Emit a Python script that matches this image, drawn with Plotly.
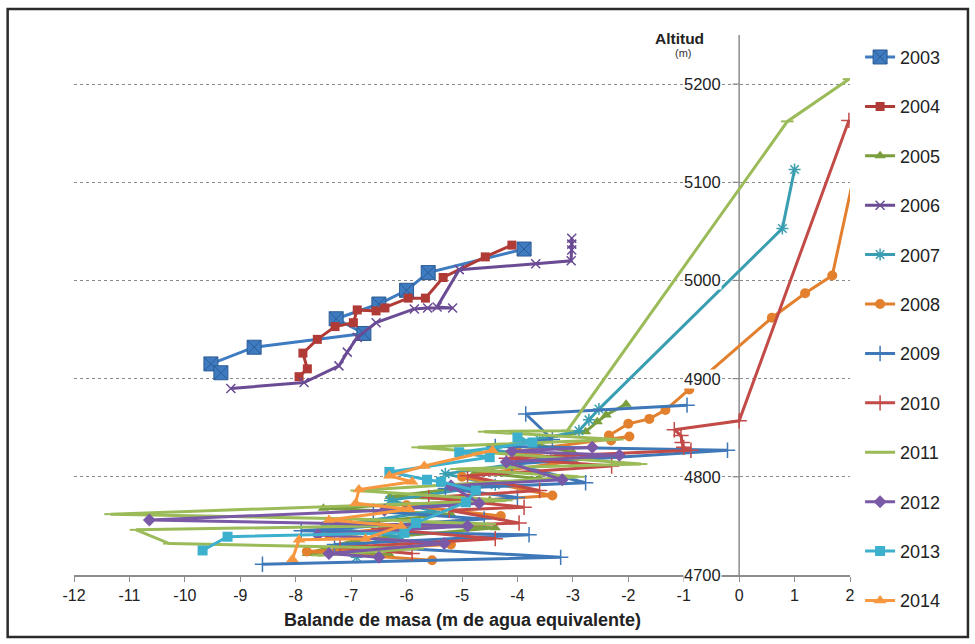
import plotly.graph_objects as go

# ---- mass balance (m w.e.) vs altitude (m), one series per year ----
bal_2003 = [-3.88, -5.61, -6.00, -6.50, -7.27, -6.77, -8.75, -9.53, -9.35]
alt_2003 = [5032, 5008, 4990, 4976, 4961, 4946, 4932, 4915, 4906]

bal_2004 = [-4.10, -4.58, -5.34, -5.66, -5.97, -6.39, -6.55, -6.89, -6.96, -7.29, -7.61, -7.87, -7.79, -7.94]
alt_2004 = [5036, 5024, 5003, 4982, 4982, 4972, 4969, 4970, 4957, 4953, 4940, 4926, 4910, 4902]

bal_2005 = [-2.04, -2.40, -2.56, -2.77, -3.90, -3.00, -4.76, -3.60, -6.30, -4.50, -7.50, -5.20, -7.00, -4.40, -6.90, -7.79, -6.31]
alt_2005 = [4874, 4863, 4856, 4846, 4836, 4825, 4805, 4798, 4780, 4776, 4768, 4762, 4752, 4748, 4736, 4722, 4721]

bal_2006 = [-3.02, -3.02, -3.02, -3.03, -3.67, -5.05, -5.45, -5.17, -5.62, -5.86, -6.55, -6.89, -7.07, -7.22, -7.85, -9.17]
alt_2006 = [5043, 5037, 5031, 5020, 5017, 5011, 4973, 4972, 4972, 4971, 4957, 4942, 4927, 4913, 4896, 4890]

bal_2007 = [1.00, 0.78, -2.53, -2.71, -2.89, -3.60, -4.50, -3.40, -5.30, -4.40, -6.30, -5.50, -7.50, -6.10, -7.30, -6.90]
alt_2007 = [5113, 5053, 4869, 4858, 4847, 4838, 4828, 4818, 4803, 4792, 4776, 4765, 4749, 4739, 4726, 4718]

bal_2008 = [2.15, 1.68, 1.19, 0.59, -0.90, -1.33, -1.62, -2.00, -2.35, -2.31, -1.98, -4.00, -3.00, -5.00, -3.37, -6.00, -4.30, -7.40, -5.20, -7.80, -5.54]
alt_2008 = [5127, 5005, 4987, 4962, 4889, 4868, 4859, 4854, 4842, 4837, 4841, 4826, 4816, 4800, 4781, 4771, 4760, 4741, 4731, 4724, 4715]

bal_2009 = [-0.94, -3.85, -3.37, -4.40, -0.21, -4.10, -2.77, -5.30, -4.00, -6.60, -4.60, -7.90, -3.79, -7.30, -3.22, -8.60]
alt_2009 = [4873, 4864, 4838, 4831, 4827, 4813, 4794, 4788, 4779, 4765, 4757, 4745, 4741, 4731, 4718, 4711]

bal_2010 = [1.98, 0.00, -1.17, -1.05, -1.03, -1.00, -0.87, -4.20, -2.30, -4.90, -3.60, -5.60, -3.88, -5.23, -3.97, -6.50, -4.40, -7.20, -5.90]
alt_2010 = [5163, 4857, 4848, 4842, 4835, 4830, 4827, 4819, 4811, 4801, 4786, 4779, 4769, 4766, 4753, 4747, 4737, 4728, 4722]

bal_2011 = [1.98, 0.87, -3.10, -4.60, -2.20, -5.80, -1.77, -5.10, -2.90, -6.90, -4.20, -11.34, -6.90, -4.50, -10.88, -10.28, -5.80, -7.60]
alt_2011 = [5205, 5162, 4847, 4846, 4838, 4830, 4813, 4808, 4800, 4786, 4776, 4762, 4757, 4752, 4746, 4732, 4727, 4720]

bal_2012 = [-2.65, -4.10, -2.16, -4.20, -3.19, -5.20, -4.69, -6.40, -10.64, -4.90, -7.60, -5.32, -7.40, -6.50]
alt_2012 = [4830, 4826, 4822, 4815, 4797, 4791, 4773, 4766, 4756, 4750, 4741, 4732, 4722, 4718]

bal_2013 = [-4.00, -3.73, -5.05, -4.50, -6.31, -5.63, -5.38, -4.75, -4.93, -5.83, -6.04, -9.23, -9.68]
alt_2013 = [4840, 4835, 4825, 4820, 4805, 4797, 4795, 4786, 4774, 4753, 4743, 4739, 4725]

bal_2014 = [-4.45, -5.68, -6.31, -5.90, -6.86, -6.92, -5.95, -7.40, -6.10, -6.74, -7.94, -8.06]
alt_2014 = [4827, 4811, 4801, 4795, 4787, 4773, 4767, 4756, 4750, 4737, 4736, 4716]

years = ["2003", "2004", "2005", "2006", "2007", "2008",
         "2009", "2010", "2011", "2012", "2013", "2014"]

x_ticks = list(range(-12, 3))
x_tick_text = [str(v) for v in x_ticks]
y_ticks = [4700, 4800, 4900, 5000, 5100, 5200]

FONT = "Liberation Sans, Arial, sans-serif"

series = {
    "2003": (bal_2003, alt_2003),
    "2004": (bal_2004, alt_2004),
    "2005": (bal_2005, alt_2005),
    "2006": (bal_2006, alt_2006),
    "2007": (bal_2007, alt_2007),
    "2008": (bal_2008, alt_2008),
    "2009": (bal_2009, alt_2009),
    "2010": (bal_2010, alt_2010),
    "2011": (bal_2011, alt_2011),
    "2012": (bal_2012, alt_2012),
    "2013": (bal_2013, alt_2013),
    "2014": (bal_2014, alt_2014),
}

styles = {
    "2003": dict(color="#3F7BC0", symbol="square-x", size=14, mline="#2C5C94", mwidth=1),
    "2004": dict(color="#B03A36", symbol="square", size=9, mline="#B03A36", mwidth=0),
    "2005": dict(color="#7A9E3E", symbol="triangle-up", size=10, mline="#7A9E3E", mwidth=0),
    "2006": dict(color="#6A4B94", symbol="x-thin-open", size=9, mline="#6A4B94", mwidth=1.5),
    "2007": dict(color="#3A9EB2", symbol="asterisk-open", size=10, mline="#3A9EB2", mwidth=1.5),
    "2008": dict(color="#E2802E", symbol="circle", size=10, mline="#E2802E", mwidth=0),
    "2009": dict(color="#3F78B8", symbol="cross-thin-open", size=11, mline="#3F78B8", mwidth=1.5),
    "2010": dict(color="#C24A47", symbol="cross-thin-open", size=11, mline="#C24A47", mwidth=1.5),
    "2011": dict(color="#9BBB59", symbol="line-ew-open", size=9, mline="#9BBB59", mwidth=2),
    "2012": dict(color="#7A5AA6", symbol="diamond", size=10, mline="#7A5AA6", mwidth=0),
    "2013": dict(color="#3DB0CE", symbol="square", size=10, mline="#3DB0CE", mwidth=0),
    "2014": dict(color="#F7973F", symbol="triangle-up", size=11, mline="#F7973F", mwidth=0),
}

fig = go.Figure()
for i, yr in enumerate(years):
    xs, ys = series[yr]
    st = styles[yr]
    fig.add_trace(go.Scatter(
        x=xs, y=ys, name=yr, legendgroup=yr,
        legend="legend" if i < 6 else "legend2",
        mode="lines+markers",
        line=dict(color=st["color"], width=3),
        marker=dict(symbol=st["symbol"], size=st["size"], color=st["color"],
                    line=dict(color=st["mline"], width=st["mwidth"])),
    ))

# vertical axis crossing at zero balance
shapes = [dict(type="line", xref="x", yref="y", x0=0, x1=0, y0=4700, y1=5250,
               line=dict(color="#8C8C8C", width=1.5), layer="below")]
for v in y_ticks[1:]:
    shapes.append(dict(type="line", xref="x", yref="y", x0=-0.12, x1=0, y0=v, y1=v,
                       line=dict(color="#8C8C8C", width=1.2), layer="below"))
# outer frame
shapes.append(dict(type="rect", xref="paper", yref="paper",
                   x0=-0.0855, x1=1.152, y0=-0.115, y1=1.048,
                   line=dict(color="#2B2B2B", width=2.5)))

annotations = []
for v in y_ticks:
    annotations.append(dict(x=0, y=v, xref="x", yref="y", text=str(v), showarrow=False,
                            xanchor="right", yanchor="middle", xshift=-17,
                            bgcolor="white", borderpad=0,
                            font=dict(family=FONT, size=16.5, color="#222222")))
annotations.append(dict(x=-1.08, y=0.994, xref="x", yref="paper", text="<b>Altitud</b>",
                        showarrow=False, xanchor="center", yanchor="middle",
                        font=dict(family=FONT, size=15.5, color="#222222")))
annotations.append(dict(x=-1.0, y=0.966, xref="x", yref="paper", text="(m)",
                        showarrow=False, xanchor="center", yanchor="middle",
                        font=dict(family=FONT, size=11, color="#333333")))
annotations.append(dict(x=0.5, y=-0.083, xref="paper", yref="paper",
                        text="<b>Balande de masa (m de agua equivalente)</b>",
                        showarrow=False, xanchor="center", yanchor="middle",
                        font=dict(family=FONT, size=18, color="#222222")))

legend_style = dict(xanchor="left", yanchor="top",
                    font=dict(family=FONT, size=18, color="#222222"),
                    tracegroupgap=23, itemwidth=30, bgcolor="rgba(0,0,0,0)")

fig.update_layout(
    width=975, height=644,
    margin=dict(l=74, r=125, t=35, b=69),
    paper_bgcolor="white", plot_bgcolor="white",
    font=dict(family=FONT, size=16, color="#222222"),
    showlegend=True,
    legend=dict(x=1.013, y=0.993, **legend_style),
    legend2=dict(x=1.013, y=0.444, **legend_style),
    xaxis=dict(range=[-12, 2], tickvals=x_ticks, ticktext=x_tick_text,
               showgrid=False, zeroline=False, showline=True, linecolor="#8C8C8C",
               linewidth=1.5, ticks="outside", ticklen=5, tickcolor="#8C8C8C",
               tickfont=dict(family=FONT, size=16, color="#222222")),
    yaxis=dict(range=[4700, 5250], tickvals=y_ticks[1:], showticklabels=False,
               showgrid=True, gridcolor="#8A8A8A", griddash="dot", gridwidth=1,
               zeroline=False, showline=False, ticks=""),
    shapes=shapes,
    annotations=annotations,
)

fig.write_html("out.html")
